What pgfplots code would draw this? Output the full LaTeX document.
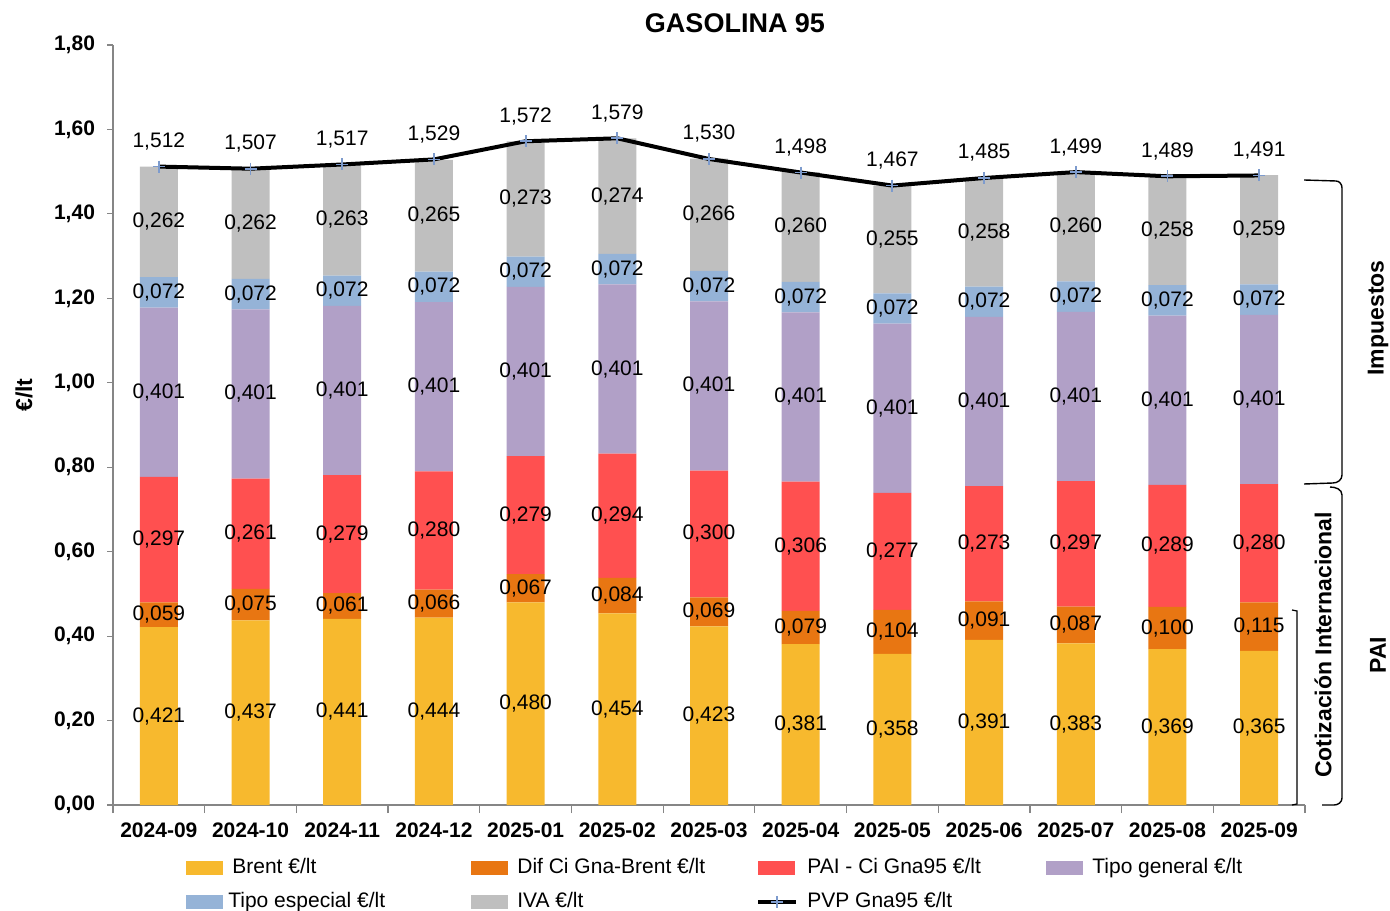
\documentclass[border=0pt]{standalone}
\usepackage{fontspec}
\setmainfont{Liberation Sans}
\usepackage{pgfplots}
\usepackage{pgfplotstable}
\pgfplotsset{compat=1.18}

\definecolor{cbrent}{RGB}{247,185,46}
\definecolor{cdif}{RGB}{232,118,18}
\definecolor{cpai}{RGB}{255,80,80}
\definecolor{cgen}{RGB}{177,160,199}
\definecolor{cesp}{RGB}{149,179,215}
\definecolor{civa}{RGB}{191,191,191}
\definecolor{cmark}{RGB}{125,155,205}
\definecolor{ejes}{RGB}{134,134,134}

\newcommand{\etiq}{\fontsize{10.5}{12}\selectfont}
\newcommand{\rot}{\bfseries\fontsize{11.5}{13}\selectfont}
\newcommand{\leg}[1]{\makebox[124pt][l]{\hspace*{4.5pt}#1}}

% componentes del precio, euros por litro
\pgfplotstableread{
x  brent dif   pai   gen   esp   iva   pvp
0  0.421 0.059 0.297 0.401 0.072 0.262 1.512
1  0.437 0.075 0.261 0.401 0.072 0.262 1.507
2  0.441 0.061 0.279 0.401 0.072 0.263 1.517
3  0.444 0.066 0.280 0.401 0.072 0.265 1.529
4  0.480 0.067 0.279 0.401 0.072 0.273 1.572
5  0.454 0.084 0.294 0.401 0.072 0.274 1.579
6  0.423 0.069 0.300 0.401 0.072 0.266 1.530
7  0.381 0.079 0.306 0.401 0.072 0.260 1.498
8  0.358 0.104 0.277 0.401 0.072 0.255 1.467
9  0.391 0.091 0.273 0.401 0.072 0.258 1.485
10 0.383 0.087 0.297 0.401 0.072 0.260 1.499
11 0.369 0.100 0.289 0.401 0.072 0.258 1.489
12 0.365 0.115 0.280 0.401 0.072 0.259 1.491
}\gasolina

\pgfplotsset{
  /pgf/number format/assume math mode=true,
  marco/.style={width=596pt, height=380pt, scale only axis,
    xmin=-0.5, xmax=12.5, ymin=0, ymax=1.8},
  tramo/.style={
    fill=#1, draw=none,
    point meta=explicit,
    nodes near coords={\pgfmathprintnumber[fixed,fixed zerofill,precision=3,use comma]{\pgfplotspointmeta}},
    every node near coord/.style={font=\etiq, text=black, anchor=center},
    legend image code/.code={\fill[##1] (0pt,-3.5pt) rectangle (18.5pt,3.5pt);},
  },
  pvp/.style={sharp plot, black, line width=2pt, mark=+, mark size=3pt,
    mark options={draw=cmark, line width=0.9pt}},
  linealeg/.style={
    legend image code/.code={\draw[##1,mark repeat=2,mark phase=2] plot coordinates {(0pt,0pt) (9.5pt,0pt) (19pt,0pt)};},
  },
}

\begin{document}
\begin{tikzpicture}
\begin{axis}[
  marco,
  ybar stacked, bar width=19pt,
  axis x line*=bottom, axis y line*=left,
  axis line style={draw=ejes, line width=0.6pt},
  xtick={0,...,12},
  xticklabels={2024-09,2024-10,2024-11,2024-12,2025-01,2025-02,2025-03,2025-04,2025-05,2025-06,2025-07,2025-08,2025-09},
  minor xtick={-0.5,0.5,...,12.5},
  major x tick style={draw=none},
  minor x tick style={draw=ejes, line width=0.6pt},
  ytick={0,0.2,0.4,0.6,0.8,1.0,1.2,1.4,1.6,1.8},
  ytick style={draw=ejes, line width=0.6pt},
  tick align=outside,
  major tick length=3pt, minor tick length=4pt,
  yticklabel style={xshift=-2.5pt, /pgf/number format/.cd, fixed, fixed zerofill, precision=2, use comma},
  ticklabel style={font=\bfseries\etiq},
  xticklabel style={yshift=-2.5pt},
  legend columns=4,
  legend cell align=left,
  legend style={draw=none, fill=none, at={(0.0612,-0.069)}, anchor=north west,
    inner sep=0pt, font=\etiq, row sep=6.5pt,
    /tikz/every even column/.append style={column sep=0pt},
    nodes={inner sep=0pt, text height=8pt, text depth=2.5pt}},
]
\addplot[tramo=cbrent] table[x=x,y=brent,meta=brent]{\gasolina};
\addlegendentry{\leg{Brent €/lt}}
\addplot[tramo=cdif] table[x=x,y=dif,meta=dif]{\gasolina};
\addlegendentry{\leg{Dif Ci Gna-Brent €/lt}}
\addplot[tramo=cpai] table[x=x,y=pai,meta=pai]{\gasolina};
\addlegendentry{\leg{PAI - Ci Gna95 €/lt}}
\addplot[tramo=cgen] table[x=x,y=gen,meta=gen]{\gasolina};
\addlegendentry{\leg{Tipo general €/lt}}
\addplot[tramo=cesp] table[x=x,y=esp,meta=esp]{\gasolina};
\addlegendentry{\makebox[124pt][l]{\hspace*{2.5pt}Tipo especial €/lt}}
\addplot[tramo=civa] table[x=x,y=iva,meta=iva]{\gasolina};
\addlegendentry{\leg{IVA €/lt}}
\addlegendimage{pvp, linealeg}
\addlegendentry{\leg{PVP Gna95 €/lt}}
\end{axis}

% linea del PVP en un eje superpuesto sin apilar
\begin{axis}[marco, hide axis]
\addplot[pvp,
  point meta=explicit,
  nodes near coords={\pgfmathprintnumber[fixed,fixed zerofill,precision=3,use comma]{\pgfplotspointmeta}},
  every node near coord/.style={font=\etiq, text=black, anchor=center, yshift=12.5pt}]
  table[x=x,y=pvp,meta=pvp]{\gasolina};
\end{axis}

\begin{scope}[x=0.5pt, y=-0.5pt, shift={(-56.5pt,402.5pt)}]
\node[font=\bfseries\fontsize{13.5}{16}\selectfont] at (735,23) {GASOLINA 95};
\node[rotate=90, font=\rot] at (24,395) {€/lt};
\node[rotate=90, font=\rot] at (1378,318) {Impuestos};
\node[rotate=90, font=\rot] at (1323,645) {Cotización Internacional};
\node[rotate=90, font=\rot] at (1378,655) {PAI};
\draw[line width=0.7pt] (1304,180) -- (1336,181) to[out=0,in=90] (1342,188)
  -- (1342,475) to[out=270,in=0] (1333,483) -- (1304,484);
\draw[line width=0.7pt] (1330,487) to[out=0,in=90] (1342,495)
  -- (1342,798) to[out=270,in=0] (1334,805) -- (1322,805);
\draw[line width=0.6pt] (1292,610) -- (1297,611) -- (1297,804) -- (1292,805);
\pgfresetboundingbox
\path[use as bounding box] (0,0) rectangle (1390,910);
\end{scope}
\end{tikzpicture}
\end{document}
